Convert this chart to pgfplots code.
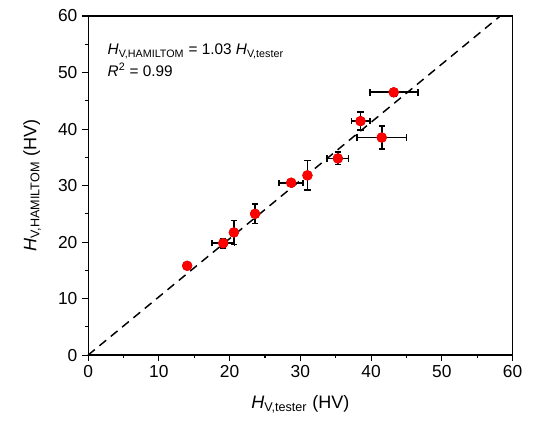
\documentclass[border=0pt]{standalone}
\usepackage{fontspec}
\setmainfont{Liberation Sans}
\usepackage{pgfplots}
\pgfplotsset{compat=1.18}
\usepackage{pgfplotstable}
\usetikzlibrary{calc}

% x  y  ex  ey
\pgfplotstableread{
x     y     ex    ey
14.0  15.8  0     0
19.1  19.8  1.6   0.8
20.6  21.7  0     2.1
23.6  25.0  0     1.7
28.7  30.5  1.7   0
31.0  31.8  0     2.6
35.3  34.8  1.5   1.1
38.5  41.4  1.3   1.6
41.5  38.5  3.5   2.0
43.2  46.5  3.4   0.7
}\hardness

\begin{document}
\begin{tikzpicture}
  \begin{axis}[
    scale only axis,
    width=318pt, height=254pt,
    xmin=0, xmax=60, ymin=0, ymax=60,
    xtick={0,10,...,60}, ytick={0,10,...,60},
    minor tick num=1,
    tick pos=left,
    tick align=outside,
    major tick length=4.5pt, minor tick length=2.5pt,
    axis line style={line width=0.9pt},
    every tick/.style={black, line width=0.8pt},
    tick label style={font=\fontsize{13}{15}\selectfont},
    /pgf/number format/assume math mode=true,
    xlabel={{\itshape H}\textsubscript{V,tester} (HV)},
    ylabel={{\itshape H}\textsubscript{V,HAMILTOM} (HV)},
    label style={font=\fontsize{13.5}{15}\selectfont},
    xlabel style={yshift=-6pt},
    ylabel style={yshift=6pt},
    every error bar/.append style={black, line width=1.3pt},
    clip=false,
  ]
    % y = 1.03 x fit
    \addplot[black, line width=1.1pt, dash pattern=on 6.5pt off 4.5pt]
      coordinates {(0,0) (58.25,60)};
    % error bars with caps; red markers are drawn again on top
    \addplot[black, line width=1.3pt, only marks, mark=*, mark size=3pt,
      error bars/.cd,
        x dir=both, y dir=both, x explicit, y explicit,
        error bar style={line width=1.3pt},
        error mark options={rotate=90, black, line width=1.2pt, mark size=2.4pt},
    ] table[x=x, y=y, x error=ex, y error=ey] {\hardness};
    \addplot[only marks, mark=*, mark size=3.7pt,
      mark options={fill=red, draw=red}]
      table[x=x, y=y] {\hardness};
    \node[anchor=west, align=left, font=\fontsize{11.5}{16}\selectfont]
      at (rel axis cs:0.035,0.87)
      {{\itshape H}\textsubscript{V,HAMILTOM} = 1.03 {\itshape H}\textsubscript{V,tester}\\
       {\itshape R}\textsuperscript{2} = 0.99};
  \end{axis}
  \pgfresetboundingbox
  \path ($(current axis.south west)+(-66pt,-54pt)$)
    rectangle ($(current axis.north east)+(31pt,12pt)$);
\end{tikzpicture}
\end{document}
